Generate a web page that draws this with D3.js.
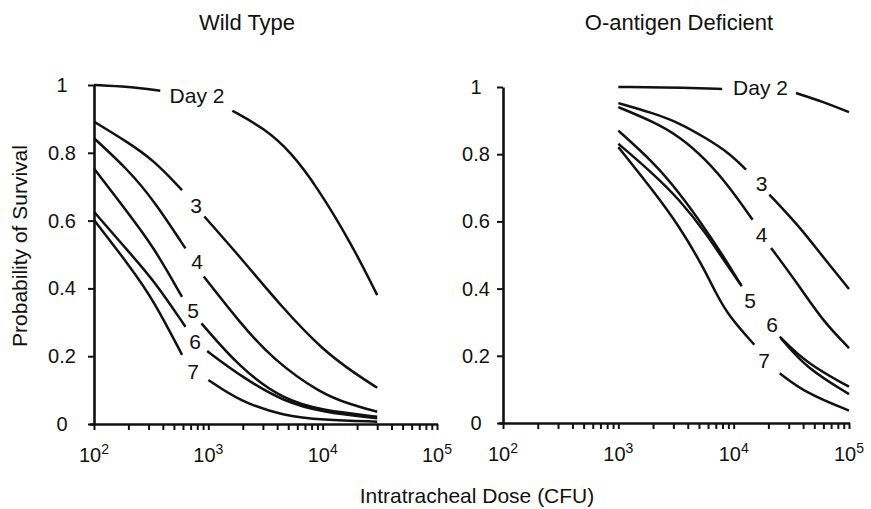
<!DOCTYPE html>
<html><head><meta charset="utf-8">
<script src="https://cdn.jsdelivr.net/npm/d3@7"></script>
<style>
body{margin:0;background:#fff}
text{font-family:"Liberation Sans",Arial,sans-serif;fill:#111}
</style></head>
<body><svg id="c" width="871" height="509"></svg>
<script>
// ---------- data ----------
const panelTitles = ["Wild Type", "O-antigen Deficient"];
const axisTitleX = "Intratracheal Dose (CFU)";
const axisTitleY = "Probability of Survival";
const yTicks = [0, 0.2, 0.4, 0.6, 0.8, 1];
const yTickLabels = ["0", "0.2", "0.4", "0.6", "0.8", "1"];
const xMajor = [100, 1000, 10000, 100000];
const xMajorExp = ["2", "3", "4", "5"];
const seriesNames = ["Day 2", "3", "4", "5", "6", "7"];

// Wild type: [dose, survival]; null = gap where the label sits
const wtDay2 = [[100,1.0],[200,0.995],[380,0.983],null,[1622,0.924],[3090,0.872],[5250,0.803],[8910,0.70],[17800,0.533],[30000,0.38]];
const wtDay3 = [[100,0.892],[194,0.833],[331,0.779],[589,0.690],null,[923,0.612],[1995,0.484],[4467,0.342],[10000,0.218],[19950,0.145],[30000,0.107]];
const wtDay4 = [[100,0.843],[200,0.749],[331,0.661],[631,0.518],null,[912,0.435],[1905,0.297],[3715,0.189],[9550,0.0905],[17400,0.058],[30000,0.036]];
const wtDay5 = [[100,0.754],[200,0.621],[331,0.523],[589,0.375],null,[871,0.297],[1905,0.164],[4570,0.071],[10000,0.040],[30000,0.0216]];
const wtDay6 = [[100,0.626],[207,0.503],[331,0.425],[631,0.287],null,[977,0.215],[2040,0.135],[4570,0.066],[10000,0.035],[30000,0.017]];
const wtDay7 = [[100,0.602],[207,0.464],[331,0.366],[589,0.204],null,[1000,0.130],[1905,0.066],[4570,0.024],[10000,0.012],[30000,0.007]];

// O-antigen deficient
const oaDay2 = [[1000,1.0],[4000,0.998],[7940,0.994],null,[34700,0.982],[58900,0.957],[100000,0.925]];
const oaDay3 = [[1000,0.952],[1977,0.923],[3390,0.893],[5750,0.848],[9120,0.804],[12800,0.754],null,[20400,0.680],[37150,0.585],[58900,0.496],[100000,0.399]];
const oaDay4 = [[1000,0.940],[1977,0.898],[3390,0.853],[5750,0.784],[9120,0.704],[14600,0.605],null,[21100,0.521],[37150,0.407],[58900,0.305],[100000,0.223]];
const oaDay5 = [[1000,0.870],[1977,0.779],[3390,0.685],[5750,0.575],[8510,0.486],[11750,0.407],null,[25100,0.257],[42700,0.178],[100000,0.108]];
const oaDay6 = [[1000,0.831],[1977,0.744],[3390,0.665],[5750,0.565],[8510,0.476],[11500,0.412],null,[25700,0.252],[42700,0.163],[100000,0.086]];
const oaDay7 = [[1000,0.821],[1977,0.694],[3390,0.585],[5400,0.466],[7000,0.387],[9120,0.317],[15100,0.233],null,[25100,0.148],[42700,0.088],[100000,0.037]];

// label anchors in data coordinates [dose, survival]
const wtLabelAt = [[796,0.968],[780,0.646],[796,0.478],[735,0.336],[765,0.242],[735,0.156]];
const oaLabelAt = [[17100,1.0],[17500,0.713],[17500,0.5625],[13870,0.366],[21500,0.292],[18400,0.185]];

// ---------- drawing ----------
const svg = d3.select("#c");
const panels = [
  {title: panelTitles[0], series: [wtDay2,wtDay3,wtDay4,wtDay5,wtDay6,wtDay7], labels: wtLabelAt,
   xr: [94, 437], yr: [424, 85], titleX: 247, tickLabX: 32},
  {title: panelTitles[1], series: [oaDay2,oaDay3,oaDay4,oaDay5,oaDay6,oaDay7], labels: oaLabelAt,
   xr: [503, 849], yr: [423, 87], titleX: 679, tickLabX: 27}
];

const minor = [];
[100, 1000, 10000].forEach(d => { for (let k = 2; k <= 9; k++) minor.push(k * d); });

panels.forEach(p => {
  const x = d3.scaleLog().domain([100, 100000]).range(p.xr);
  const y = d3.scaleLinear().domain([0, 1]).range(p.yr);
  const g = svg.append("g");

  // x axis
  const xa = g.append("g").attr("transform", `translate(0,${p.yr[0]})`)
    .call(d3.axisBottom(x).tickValues(xMajor.concat(minor)).tickSize(6).tickSizeOuter(0).tickFormat(() => ""));
  xa.select(".domain").attr("stroke", "#111").attr("stroke-width", 2.6)
    .attr("d", `M${p.xr[0]-4},0.5H${p.xr[1]+1}`);
  xa.selectAll(".tick line").attr("stroke", "#111").attr("stroke-width", 2);
  xa.selectAll(".tick text").remove();
  xMajor.forEach((v, i) => {
    const t = g.append("text").attr("x", x(v)).attr("y", p.yr[0] + 38)
      .attr("text-anchor", "middle").attr("font-size", 20);
    t.append("tspan").text("10");
    t.append("tspan").attr("dy", -8).attr("font-size", 14).text(xMajorExp[i]);
  });

  // y axis
  const ya = g.append("g").attr("transform", `translate(${p.xr[0]},0)`)
    .call(d3.axisLeft(y).tickValues(yTicks).tickSize(6).tickSizeOuter(0).tickFormat(() => ""));
  ya.select(".domain").attr("stroke", "#111").attr("stroke-width", 2.6);
  ya.selectAll(".tick line").attr("stroke", "#111").attr("stroke-width", 2);
  ya.selectAll(".tick text").remove();
  yTicks.forEach((v, i) => {
    g.append("text").attr("x", p.xr[0] - p.tickLabX).attr("y", y(v) + 7)
      .attr("text-anchor", "middle").attr("font-size", 20).text(yTickLabels[i]);
  });

  // title
  g.append("text").attr("x", p.titleX).attr("y", 30).attr("text-anchor", "middle")
    .attr("font-size", 22).text(p.title);

  // curves
  const line = d3.line().defined(d => d !== null)
    .x(d => x(d[0])).y(d => y(d[1])).curve(d3.curveBasis);
  p.series.forEach(s => {
    g.append("path").attr("d", line(s)).attr("fill", "none")
      .attr("stroke", "#111").attr("stroke-width", 2.5);
  });

  // curve labels
  p.labels.forEach((l, i) => {
    g.append("text").attr("x", x(l[0])).attr("y", y(l[1]) + 7.5)
      .attr("text-anchor", "middle").attr("font-size", 21).text(seriesNames[i]);
  });
});

// axis titles
svg.append("text").attr("x", 477).attr("y", 503).attr("text-anchor", "middle")
  .attr("font-size", 21).text(axisTitleX);
svg.append("text").attr("transform", "translate(27,246) rotate(-90)")
  .attr("text-anchor", "middle").attr("font-size", 21).text(axisTitleY);
</script></body></html>
